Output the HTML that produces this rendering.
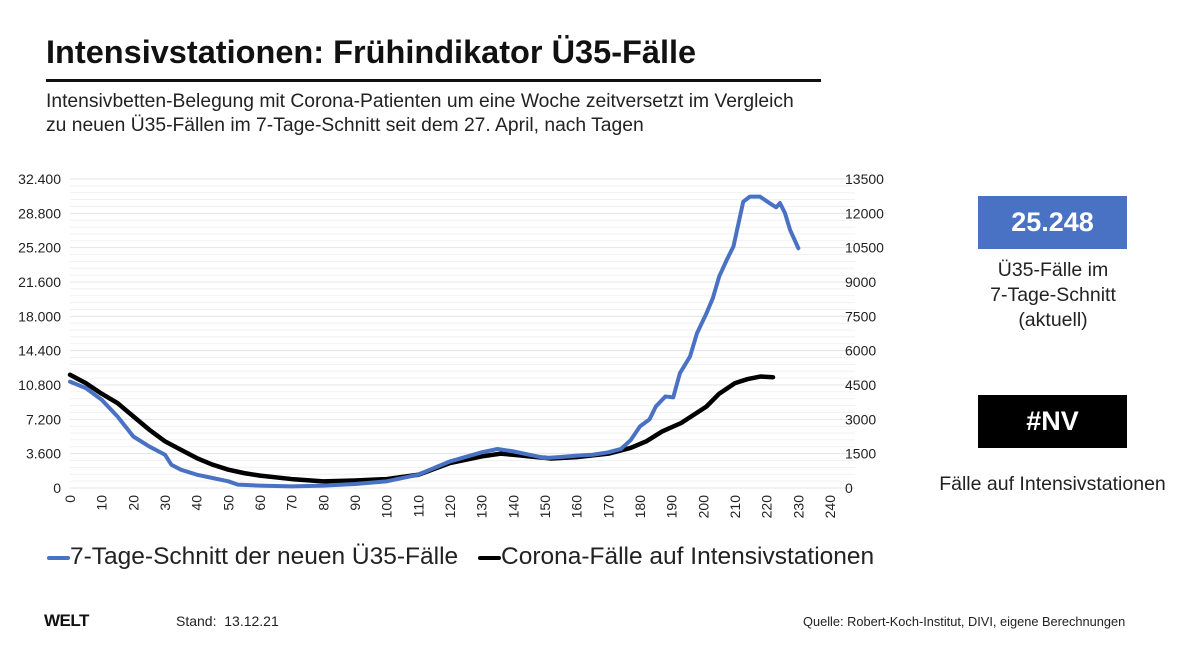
<!DOCTYPE html>
<html><head><meta charset="utf-8"><style>
body{margin:0;background:#fff;font-family:"Liberation Sans",sans-serif;}
#wrap{position:relative;width:1200px;height:648px;overflow:hidden;}
.abs{position:absolute;}
</style></head><body>
<div id="wrap">
<div class="abs" style="left:46px;top:34px;font-size:32.5px;font-weight:bold;color:#111;">Intensivstationen: Frühindikator Ü35-Fälle</div>
<div class="abs" style="left:46px;top:79px;width:775px;height:3px;background:#111;"></div>
<div class="abs" style="left:46px;top:90px;font-size:19.3px;line-height:24px;color:#222;">Intensivbetten-Belegung mit Corona-Patienten um eine Woche zeitversetzt im Vergleich<br>zu neuen Ü35-Fällen im 7-Tage-Schnitt seit dem 27. April, nach Tagen</div>
<svg class="abs" style="left:0;top:0" width="1200" height="648" id="chart"></svg>
<div class="abs" style="left:978px;top:196px;width:149px;height:53px;background:#4a72c4;color:#fff;font-size:27px;font-weight:bold;text-align:center;line-height:53px;">25.248</div>
<div class="abs" style="left:952px;top:258px;width:202px;text-align:center;font-size:19.5px;line-height:25px;color:#222;">Ü35-Fälle im<br>7-Tage-Schnitt<br>(aktuell)</div>
<div class="abs" style="left:978px;top:395px;width:149px;height:53px;background:#000;color:#fff;font-size:27px;font-weight:bold;text-align:center;line-height:53px;">#NV</div>
<div class="abs" style="left:920px;top:473px;width:265px;text-align:center;font-size:19.5px;color:#222;">Fälle auf Intensivstationen</div>
<div class="abs" style="left:47px;top:543px;font-size:24.5px;color:#222;"><span style="display:inline-block;width:23px;height:4px;background:#4a72c4;vertical-align:middle;border-radius:2px;"></span>7-Tage-Schnitt der neuen Ü35-Fälle</div>
<div class="abs" style="left:478px;top:543px;font-size:24.5px;color:#222;"><span style="display:inline-block;width:23px;height:4px;background:#000;vertical-align:middle;border-radius:2px;"></span>Corona-Fälle auf Intensivstationen</div>
<div class="abs" style="left:44px;top:611px;font-size:17px;font-weight:900;color:#111;letter-spacing:-0.5px;">WELT</div>
<div class="abs" style="left:176px;top:613px;font-size:14px;color:#222;">Stand:&nbsp; 13.12.21</div>
<div class="abs" style="left:803px;top:614px;font-size:12.8px;color:#222;">Quelle: Robert-Koch-Institut, DIVI, eigene Berechnungen</div>
</div>
<script>
const blueDays=[0,5,10,15,20,25,30,32,35,40,45,50,53,60,70,80,90,100,110,120,130,135,140,145,150,155,160,165,170,174,177,180,183,185,188,190.5,192.6,195.8,198,201,203,205,207.4,209.5,212.6,214.7,217.9,221,223,224.2,225.8,227.4,230];
const blueVals=[11150,10470,9250,7500,5400,4360,3490,2440,1920,1400,1050,700,350,250,175,250,420,700,1400,2790,3740,4090,3840,3490,3140,3250,3390,3490,3740,4100,5000,6460,7200,8550,9600,9500,12040,13790,16230,18330,19900,22170,23920,25320,30020,30550,30550,29850,29430,29880,28810,27060,25140];
const blackDays=[0,5,10,15,20,25,30,35,40,45,50,55,60,70,80,90,100,110,120,130,136,140,145,152,160,170,177,182,187,193,197,201,205,210,214,218,222];
const blackVals=[4946,4580,4120,3710,3130,2550,2040,1670,1310,1020,800,650,540,390,290,330,390,580,1090,1380,1500,1450,1380,1290,1350,1500,1750,2040,2470,2840,3200,3560,4120,4580,4760,4870,4840];
const leftTicks=["0","3.600","7.200","10.800","14.400","18.000","21.600","25.200","28.800","32.400"];
const rightTicks=["0","1500","3000","4500","6000","7500","9000","10500","12000","13500"];
const xTicks=[0,10,20,30,40,50,60,70,80,90,100,110,120,130,140,150,160,170,180,190,200,210,220,230,240];
const X0=70,X1=830,Y0=488,Y1=179;
const xs=d=>X0+d*(X1-X0)/240;
const yl=v=>Y0-v*(Y0-Y1)/32400;
const yr=v=>Y0-v*(Y0-Y1)/13500;
const svg=document.getElementById('chart');const NS='http://www.w3.org/2000/svg';
function mk(t,a){const e=document.createElementNS(NS,t);for(const k in a)e.setAttribute(k,a[k]);svg.appendChild(e);return e;}
for(let v=0;v<=32400;v+=720){const g=mk('line',{x1:X0,x2:855,y1:yl(v),y2:yl(v),stroke:v%3600==0?'#e4e4e4':'#f1f1f1','stroke-width':1});

}
leftTicks.forEach((t,i)=>{const e=mk('text',{x:61,y:yl(i*3600)+5,'text-anchor':'end','font-size':14,fill:'#222','font-family':'Liberation Sans'});e.textContent=t;

});
rightTicks.forEach((t,i)=>{const e=mk('text',{x:845,y:yr(i*1500)+5,'font-size':14,fill:'#222','font-family':'Liberation Sans'});e.textContent=t;

});
xTicks.forEach(d=>{const x=xs(d);const e=mk('text',{x:0,y:0,transform:`translate(${x+5},495) rotate(-90)`,'text-anchor':'end','font-size':14,fill:'#222','font-family':'Liberation Sans'});e.textContent=d;

});
const bp=mk('polyline',{points:blackDays.map((d,i)=>xs(d)+','+yr(blackVals[i])).join(' '),fill:'none',stroke:'#000','stroke-width':4.5,'stroke-linejoin':'round','stroke-linecap':'round'});


const bl=mk('polyline',{points:blueDays.map((d,i)=>xs(d)+','+yl(blueVals[i])).join(' '),fill:'none',stroke:'#4a72c4','stroke-width':4,'stroke-linejoin':'round','stroke-linecap':'round'});


</script>
</body></html>
